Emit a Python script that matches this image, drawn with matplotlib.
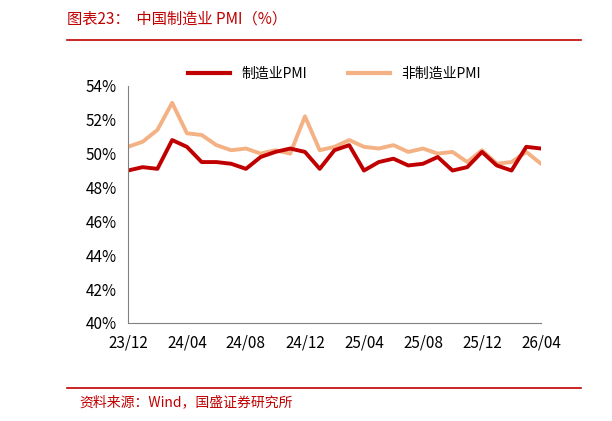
import matplotlib.pyplot as plt
import matplotlib.lines as mlines

plt.rcParams['font.family'] = ['Noto Sans CJK SC', 'DejaVu Sans']

months = ['23/12', '24/01', '24/02', '24/03', '24/04', '24/05', '24/06', '24/07', '24/08', '24/09',
          '24/10', '24/11', '24/12', '25/01', '25/02', '25/03', '25/04', '25/05', '25/06', '25/07',
          '25/08', '25/09', '25/10', '25/11', '25/12', '26/01', '26/02', '26/03', '26/04']
manu = [49.0, 49.2, 49.1, 50.8, 50.4, 49.5, 49.5, 49.4, 49.1, 49.8,
        50.1, 50.3, 50.1, 49.1, 50.2, 50.5, 49.0, 49.5, 49.7, 49.3,
        49.4, 49.8, 49.0, 49.2, 50.1, 49.3, 49.0, 50.4, 50.3]
nonmanu = [50.4, 50.7, 51.4, 53.0, 51.2, 51.1, 50.5, 50.2, 50.3, 50.0,
           50.2, 50.0, 52.2, 50.2, 50.4, 50.8, 50.4, 50.3, 50.5, 50.1,
           50.3, 50.0, 50.1, 49.5, 50.2, 49.4, 49.5, 50.1, 49.4]
yticks = [40, 42, 44, 46, 48, 50, 52, 54]

red = '#C00000'
orange = '#F4B183'

fig = plt.figure(figsize=(6.12, 4.21), dpi=100)
ax = fig.add_axes([0.209, 0.233, 0.675, 0.563])

x = list(range(len(months)))
ax.plot(x, nonmanu, color=orange, lw=2.8, solid_joinstyle='round', label='非制造业PMI')
ax.plot(x, manu, color=red, lw=2.8, solid_joinstyle='round', label='制造业PMI')

ax.set_xlim(0, len(months) - 1)
ax.set_ylim(40, 54)
ax.set_xticks(x[::4])
ax.set_xticklabels(months[::4], fontsize=11)
ax.set_yticks(yticks)
ax.set_yticklabels([f'{v}%' for v in yticks], fontsize=11)
ax.tick_params(axis='both', length=0, pad=8)
for s in ['top', 'right']:
    ax.spines[s].set_visible(False)
for s in ['left', 'bottom']:
    ax.spines[s].set_color('#808080')

h1 = mlines.Line2D([], [], color=red, lw=3)
h2 = mlines.Line2D([], [], color=orange, lw=3)
ax.legend([h1, h2], ['制造业PMI', '非制造业PMI'], ncol=2, frameon=False, fontsize=10,
          loc='center', bbox_to_anchor=(0.5, 1.05), handlelength=3, columnspacing=3)

fig.text(0.11, 0.955, '图表23：  中国制造业 PMI（%）', color=red, fontsize=11, style='italic', va='center')
fig.add_artist(mlines.Line2D([0.11, 0.95], [0.905, 0.905], color=red, lw=1.2))
fig.add_artist(mlines.Line2D([0.11, 0.95], [0.078, 0.078], color=red, lw=1.2))
fig.text(0.13, 0.045, '资料来源：Wind，国盛证券研究所', color=red, fontsize=10, style='italic', va='center')

fig.savefig('out.png')
